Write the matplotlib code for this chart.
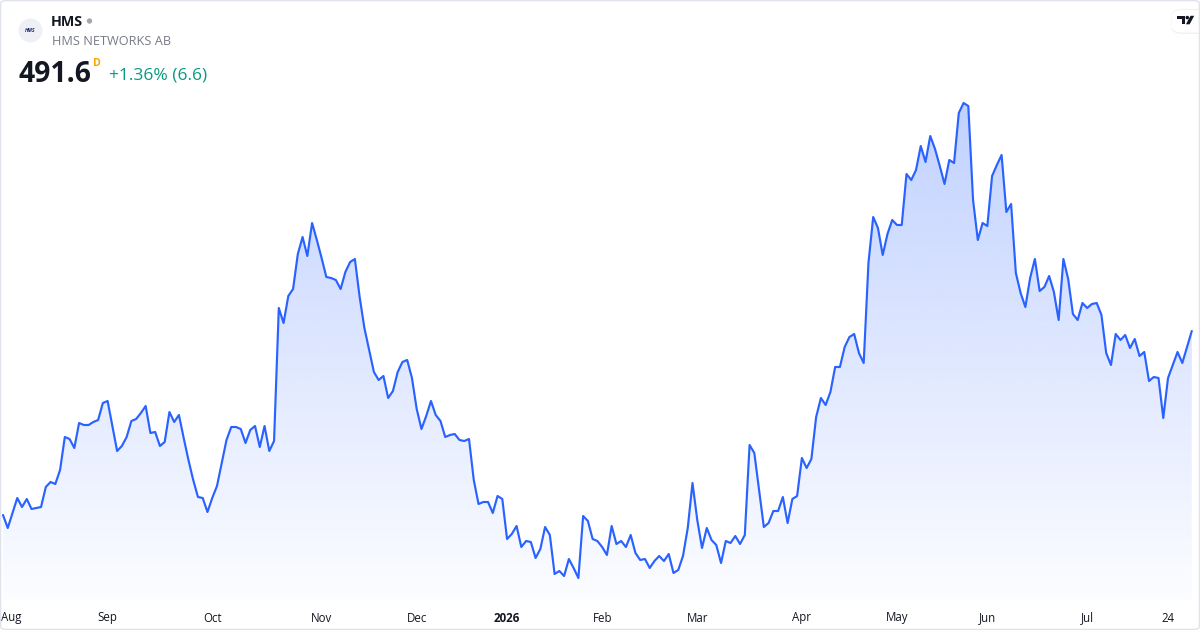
import numpy as np
import matplotlib
matplotlib.use("Agg")
import matplotlib.pyplot as plt
from matplotlib.patches import Polygon, FancyBboxPatch, Ellipse
from matplotlib.transforms import blended_transform_factory

# ---------------- data ----------------
ticker = "HMS"
company = "HMS NETWORKS AB"
last_price = "491.6"
change_text = "+1.36% (6.6)"

# daily closes (trading days, late Jul 2025 -> late Jul 2026)
prices = [
    399.6, 393.1, 400.6, 408.1, 403.6, 407.6, 402.6, 403.1, 403.6, 413.6,
    416.1, 415.1, 422.1, 438.6, 437.6, 433.1, 445.6, 444.6, 444.6, 446.1,
    447.1, 455.6, 456.6, 444.1, 431.6, 434.1, 438.6, 446.6, 447.6, 450.6,
    454.1, 440.6, 441.1, 434.1, 436.1, 451.1, 446.1, 449.6, 438.1, 427.1,
    417.1, 408.6, 408.1, 401.1, 408.1, 414.1, 425.6, 437.1, 443.6, 443.6,
    442.6, 435.6, 442.1, 444.1, 433.6, 444.1, 431.6, 436.6, 503.1, 495.6,
    509.1, 512.6, 530.1, 538.6, 529.1, 545.6, 537.1, 528.1, 518.6, 518.1,
    517.1, 512.6, 521.1, 526.1, 527.6, 508.6, 493.1, 482.1, 471.1, 467.1,
    469.1, 458.1, 461.6, 471.1, 476.1, 477.1, 468.1, 452.6, 442.6, 449.1,
    456.6, 449.6, 446.6, 438.6, 439.6, 440.1, 437.1, 436.6, 437.6, 417.1,
    405.1, 406.1, 406.1, 400.6, 409.1, 407.6, 387.6, 390.1, 394.1, 383.6,
    386.6, 386.1, 378.1, 382.6, 393.6, 389.6, 370.1, 371.6, 369.1, 377.6,
    373.1, 368.1, 399.1, 396.6, 387.6, 386.6, 383.6, 379.6, 394.1, 385.1,
    386.6, 383.6, 389.6, 380.6, 377.1, 377.6, 373.1, 376.6, 379.1, 376.6,
    380.1, 370.6, 372.1, 379.1, 393.1, 415.6, 397.1, 383.1, 393.1, 387.1,
    384.6, 375.6, 386.6, 385.6, 389.1, 385.1, 389.6, 434.6, 430.6, 412.1,
    393.6, 395.6, 401.6, 401.6, 408.6, 395.6, 407.6, 409.1, 428.1, 423.1,
    427.6, 448.6, 458.1, 454.6, 461.1, 473.6, 473.6, 483.6, 488.6, 490.1,
    480.6, 475.6, 525.6, 548.6, 543.1, 529.6, 540.1, 547.1, 544.6, 544.6,
    570.1, 567.1, 572.1, 584.1, 576.1, 589.1, 582.6, 574.1, 565.1, 577.1,
    575.6, 600.6, 605.6, 604.1, 557.1, 537.1, 545.6, 544.1, 569.1, 574.6,
    579.6, 551.1, 555.1, 520.6, 510.6, 503.6, 518.1, 527.6, 511.6, 513.6,
    519.1, 511.1, 497.1, 527.6, 517.6, 500.1, 497.1, 505.6, 503.1, 505.1,
    505.6, 499.6, 480.6, 474.6, 490.1, 487.1, 489.6, 483.1, 487.6, 479.1,
    481.1, 466.6, 468.6, 468.1, 448.1, 468.1, 474.6, 481.1, 475.6, 483.6,
    491.6,
]

tick_labels = ["Aug", "Sep", "Oct", "Nov", "Dec", "2026", "Feb", "Mar",
               "Apr", "May", "Jun", "Jul", "24"]
tick_index = [1, 22, 44, 67, 87, 106, 126, 146, 168, 188, 207, 228, 245]

# ---------------- style ----------------
plt.rcParams['font.family'] = ['Open Sans', 'DejaVu Sans']
W, H = 1200, 630
LINE = '#2962ff'

fig = plt.figure(figsize=(W / 100, H / 100), dpi=100)
fig.patch.set_facecolor('white')


def px(x, y):
    return (x / W, 1 - y / H)


def circ(cx, cy, r, color):
    return Ellipse(px(cx, cy), 2 * r / W, 2 * r / H, transform=fig.transFigure,
                   facecolor=color, edgecolor='none')


x0, x1 = 3.0, 1191.8
ax = fig.add_axes([x0 / W, 30 / H, (x1 - x0) / W, 600 / H])
n = len(prices)
xs = np.arange(n)
ylo, yhi = 357.1, 657.1
ax.set_xlim(0, n - 1)
ax.set_ylim(ylo, yhi)
ax.axis('off')

# gradient fill under line
pmax = max(prices)
grad = np.zeros((256, 1, 4))
grad[:, 0, 0] = 41 / 255
grad[:, 0, 1] = 98 / 255
grad[:, 0, 2] = 1.0
grad[:, 0, 3] = np.linspace(0.015, 0.29, 256)
verts = list(zip(xs, prices)) + [(n - 1, ylo), (0, ylo)]
poly = Polygon(verts, closed=True, facecolor='none', edgecolor='none')
ax.add_patch(poly)
im = ax.imshow(grad, aspect='auto', origin='lower',
               extent=[0, n - 1, ylo, pmax], interpolation='bicubic', zorder=1)
im.set_clip_path(poly)

ax.plot(xs, prices, color=LINE, lw=1.55, solid_joinstyle='round',
        solid_capstyle='round', zorder=3, clip_on=False)

# x labels
tr = blended_transform_factory(ax.transData, fig.transFigure)
for lab, idx in zip(tick_labels, tick_index):
    if lab == "Aug":
        ax.text(-0.35, 1 - 621.5 / H, lab, transform=tr, ha='left', va='baseline',
                fontsize=8.3, color='#131722')
    else:
        ax.text(idx, 1 - 621.5 / H, lab, transform=tr, ha='center', va='baseline',
                fontsize=8.3, color='#131722',
                fontweight='bold' if lab == "2026" else 'normal')

# ---------------- header ----------------
fig.patches.append(circ(30.5, 30.5, 12, '#eef0f6'))
fig.text(*px(30.5, 31), "HMS", fontsize=3.6, fontweight='bold', style='italic',
         color='#1c2a6b', ha='center', va='center')
fig.text(*px(51, 26), ticker, fontsize=10.3, fontweight='bold', color='#131722',
         ha='left', va='baseline')
fig.patches.append(circ(89.5, 21, 2.7, '#a3a6af'))
fig.text(*px(51.5, 45), company, fontsize=9.2, color='#787b86',
         ha='left', va='baseline')
fig.text(*px(18.5, 81.7), last_price, fontsize=20.3, fontweight='bold',
         color='#131722', ha='left', va='baseline')
fig.text(*px(93, 65.5), "D", fontsize=7.6, fontweight='bold', color='#f7a600',
         ha='left', va='baseline')
fig.text(*px(108.5, 80), change_text, fontsize=12.5, color='#089981',
         ha='left', va='baseline')

# TradingView badge top-right
fig.patches.append(FancyBboxPatch(px(1171.5, 34), 40 / W, 25 / H,
                                  boxstyle="round,pad=0,rounding_size=0.01",
                                  transform=fig.transFigure, facecolor='#e6e8ee',
                                  edgecolor='none', alpha=0.6))
fig.patches.append(FancyBboxPatch(px(1172, 32.5), 40 / W, 22.5 / H,
                                  boxstyle="round,pad=0,rounding_size=0.009",
                                  transform=fig.transFigure, facecolor='white',
                                  edgecolor='none'))
logo_color = '#131722'
fig.patches.append(Polygon([px(1177.3, 15.8), px(1185, 15.8), px(1185, 24.3),
                            px(1182, 24.3), px(1182, 19), px(1177.3, 19)],
                           closed=True, transform=fig.transFigure,
                           facecolor=logo_color, edgecolor='none'))
fig.patches.append(circ(1187.3, 17.6, 1.8, logo_color))
fig.patches.append(Polygon([px(1190.5, 15.8), px(1194.2, 15.8), px(1189.6, 24.3),
                            px(1185.9, 24.3)],
                           closed=True, transform=fig.transFigure,
                           facecolor=logo_color, edgecolor='none'))

# outer border
fig.patches.append(FancyBboxPatch((0.6 / W, 0.6 / H), (W - 1.2) / W, (H - 1.2) / H,
                                  boxstyle="round,pad=0,rounding_size=0.005",
                                  transform=fig.transFigure, facecolor='none',
                                  edgecolor='#e0e3eb', lw=1.0))

fig.savefig("out.png", dpi=100, facecolor='white')
